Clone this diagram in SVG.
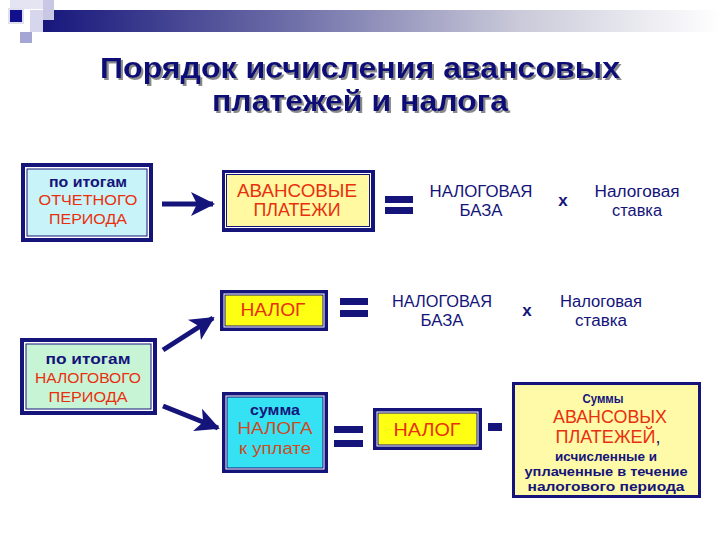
<svg xmlns="http://www.w3.org/2000/svg" width="720" height="540" viewBox="0 0 720 540">
<defs>
<linearGradient id="band" x1="0" y1="0" x2="1" y2="0">
<stop offset="0" stop-color="#17177c"/>
<stop offset="0.35" stop-color="#6a6aa6"/>
<stop offset="0.7" stop-color="#c9c9d9"/>
<stop offset="1" stop-color="#ffffff"/>
</linearGradient>
<filter id="shadow" x="-5%" y="-20%" width="110%" height="140%">
<feDropShadow dx="2" dy="2" stdDeviation="0.6" flood-color="#8a8a8a" flood-opacity="1"/>
</filter>
<marker id="ah" markerUnits="userSpaceOnUse" markerWidth="26" markerHeight="26" viewBox="0 0 26 26" refX="22" refY="13" orient="auto">
<path d="M0,1 L24,13 L0,25 L6,13 Z" fill="#14147a"/>
</marker>
</defs>
<style>
.t{font-family:"Liberation Sans",Arial,sans-serif;text-anchor:middle}
.nv{fill:#14147a}
.rd{fill:#e8300e}
.b{font-weight:bold}
.frame{fill:#14147a}
.gap{fill:#ffffff}
.conn{stroke:#14147a;stroke-width:5;fill:none;marker-end:url(#ah)}
.bar{fill:#14147a}
</style>
<rect width="720" height="540" fill="#ffffff"/>
<g id="header">
<rect x="43" y="10" width="677" height="22" fill="url(#band)"/>
<rect x="10" y="0" width="33" height="9" fill="#e4e4f2"/>
<rect x="43" y="0" width="11" height="20" fill="#c8c8e4"/>
<rect x="30" y="10" width="13" height="22" fill="#d6d6ec"/>
<rect x="20" y="32" width="12" height="11" fill="#a6a6d4"/>
<rect x="8" y="8" width="16" height="16" fill="#e0e0f0"/>
<rect x="10" y="10" width="12" height="12" fill="#10108c"/>
</g>
<g id="title" class="t b" font-size="30" fill="#0e0e78" filter="url(#shadow)">
<text x="360" y="78" textLength="520" lengthAdjust="spacingAndGlyphs">Порядок исчисления авансовых</text>
<text x="360" y="111" textLength="296" lengthAdjust="spacingAndGlyphs">платежей и налога</text>
</g>
<g id="connectors">
<line class="conn" x1="162" y1="204" x2="213" y2="204"/>
<line class="conn" x1="163" y1="350" x2="213" y2="318"/>
<line class="conn" x1="163" y1="406" x2="218" y2="428"/>
</g>
<g id="eq1"><rect class="bar" x="385" y="196" width="28" height="7"/><rect class="bar" x="385" y="207" width="28" height="7"/></g>
<g id="eq2"><rect class="bar" x="340" y="298" width="28" height="7"/><rect class="bar" x="340" y="310" width="28" height="7"/></g>
<g id="eq3"><rect class="bar" x="334" y="426" width="29" height="7"/><rect class="bar" x="334" y="440" width="29" height="7"/></g>
<g id="minus"><rect class="bar" x="488" y="423" width="14" height="8"/></g>
<g id="n-otch">
<rect class="frame" x="21" y="163" width="132" height="79"/>
<rect class="gap" x="25" y="167" width="124" height="71"/>
<rect class="frame" x="26.5" y="168.5" width="121" height="68"/>
<rect x="27.5" y="169.5" width="119" height="66" fill="#c8f3f8"/>
<text class="t nv b" x="88" y="187" font-size="14" textLength="78" lengthAdjust="spacingAndGlyphs">по итогам</text>
<text class="t rd" x="88" y="205" font-size="15.5" textLength="99" lengthAdjust="spacingAndGlyphs">ОТЧЕТНОГО</text>
<text class="t rd" x="88" y="224" font-size="15.5" textLength="78" lengthAdjust="spacingAndGlyphs">ПЕРИОДА</text>
</g>
<g id="n-avans">
<rect class="frame" x="222" y="170" width="153" height="62"/>
<rect class="gap" x="225" y="173" width="146" height="55"/>
<rect class="frame" x="226" y="174" width="144" height="53"/>
<rect x="227" y="175" width="142" height="51" fill="#fff9a2"/>
<text class="t rd" x="297" y="197" font-size="18" textLength="120" lengthAdjust="spacingAndGlyphs">АВАНСОВЫЕ</text>
<text class="t rd" x="297" y="216" font-size="18" textLength="87" lengthAdjust="spacingAndGlyphs">ПЛАТЕЖИ</text>
</g>
<g id="n-base1">
<text class="t nv" x="481" y="197" font-size="16" textLength="103" lengthAdjust="spacingAndGlyphs">НАЛОГОВАЯ</text>
<text class="t nv" x="481" y="216" font-size="16" textLength="43" lengthAdjust="spacingAndGlyphs">БАЗА</text>
</g>
<text class="t nv b" x="563" y="206" font-size="17">x</text>
<g id="n-rate1">
<text class="t nv" x="637" y="197" font-size="16" textLength="85" lengthAdjust="spacingAndGlyphs">Налоговая</text>
<text class="t nv" x="637" y="216" font-size="16" textLength="50" lengthAdjust="spacingAndGlyphs">ставка</text>
</g>
<g id="n-nalog1">
<rect class="frame" x="220" y="290" width="108" height="41"/>
<rect class="gap" x="223.5" y="293.5" width="101" height="34"/>
<rect class="frame" x="224.5" y="294.5" width="99" height="32"/>
<rect x="225.5" y="295.5" width="97" height="30" fill="#ffff14"/>
<text class="t rd" x="273" y="316" font-size="18" textLength="65" lengthAdjust="spacingAndGlyphs">НАЛОГ</text>
</g>
<g id="n-base2">
<text class="t nv" x="442" y="307" font-size="16" textLength="100" lengthAdjust="spacingAndGlyphs">НАЛОГОВАЯ</text>
<text class="t nv" x="442" y="326" font-size="16" textLength="43" lengthAdjust="spacingAndGlyphs">БАЗА</text>
</g>
<text class="t nv b" x="527" y="316" font-size="17">x</text>
<g id="n-rate2">
<text class="t nv" x="601" y="307" font-size="16" textLength="82" lengthAdjust="spacingAndGlyphs">Налоговая</text>
<text class="t nv" x="601" y="326" font-size="16" textLength="52" lengthAdjust="spacingAndGlyphs">ставка</text>
</g>
<g id="n-nalper">
<rect class="frame" x="20" y="338" width="137" height="77"/>
<rect class="gap" x="24" y="342" width="129" height="69"/>
<rect class="frame" x="25.5" y="343.5" width="126" height="66"/>
<rect x="26.5" y="344.5" width="124" height="64" fill="#c8f4d6"/>
<text class="t nv b" x="88" y="364" font-size="15" textLength="85" lengthAdjust="spacingAndGlyphs">по итогам</text>
<text class="t rd" x="88" y="383" font-size="15.5" textLength="106" lengthAdjust="spacingAndGlyphs">НАЛОГОВОГО</text>
<text class="t rd" x="88" y="402" font-size="15.5" textLength="79" lengthAdjust="spacingAndGlyphs">ПЕРИОДА</text>
</g>
<g id="n-sum">
<rect class="frame" x="222" y="392" width="106" height="81"/>
<rect class="gap" x="225.5" y="395.5" width="99" height="74"/>
<rect class="frame" x="226.5" y="396.5" width="97" height="72"/>
<rect x="227.5" y="397.5" width="95" height="70" fill="#34e2f4"/>
<text class="t nv b" x="275" y="415" font-size="14" textLength="50" lengthAdjust="spacingAndGlyphs">сумма</text>
<text class="t" x="275" y="434" font-size="17" fill="#cf4a20" textLength="75" lengthAdjust="spacingAndGlyphs">НАЛОГА</text>
<text class="t" x="275" y="454" font-size="16" fill="#cf4a20" textLength="72" lengthAdjust="spacingAndGlyphs">к уплате</text>
</g>
<g id="n-nalog2">
<rect class="frame" x="373" y="408" width="109" height="42"/>
<rect class="gap" x="376.5" y="411.5" width="102" height="35"/>
<rect class="frame" x="377.5" y="412.5" width="100" height="33"/>
<rect x="378.5" y="413.5" width="98" height="31" fill="#ffff14"/>
<text class="t rd" x="427" y="436" font-size="18" textLength="67" lengthAdjust="spacingAndGlyphs">НАЛОГ</text>
</g>
<g id="n-avsum">
<rect x="513.5" y="383.5" width="186" height="113" fill="#fffaa8" stroke="#14147a" stroke-width="3"/>
<text class="t nv b" x="603" y="403" font-size="13" textLength="41" lengthAdjust="spacingAndGlyphs">Суммы</text>
<text class="t rd" x="610" y="423" font-size="18" textLength="114" lengthAdjust="spacingAndGlyphs">АВАНСОВЫХ</text>
<text class="t rd" x="608" y="443" font-size="18" textLength="105" lengthAdjust="spacingAndGlyphs"><tspan>ПЛАТЕЖЕЙ</tspan><tspan class="nv">,</tspan></text>
<text class="t nv b" x="606" y="461" font-size="12.5" textLength="102" lengthAdjust="spacingAndGlyphs">исчисленные и</text>
<text class="t nv b" x="606" y="476" font-size="12.5" textLength="163" lengthAdjust="spacingAndGlyphs">уплаченные в течение</text>
<text class="t nv b" x="606" y="491" font-size="12.5" textLength="157" lengthAdjust="spacingAndGlyphs">налогового периода</text>
</g>
</svg>
